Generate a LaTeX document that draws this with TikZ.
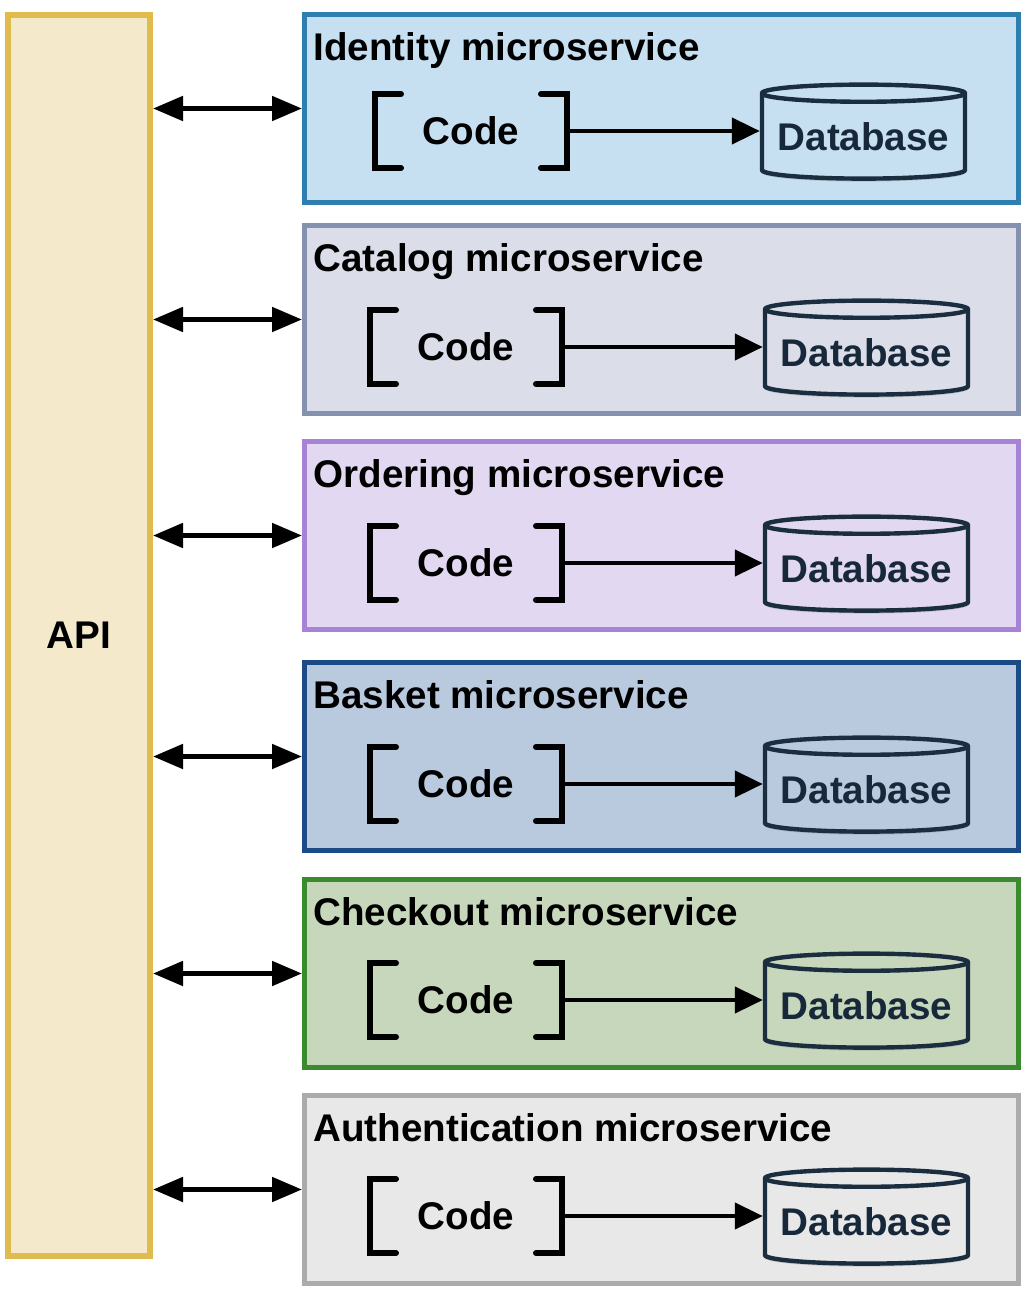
\documentclass[tikz,border=0pt]{standalone}
\usepackage{fontspec}
\setmainfont{Liberation Sans}
\usetikzlibrary{shapes.geometric,arrows.meta,shadows}
\definecolor{apifill}{HTML}{F4EACB}
\definecolor{apiline}{HTML}{E0BC4E}
\definecolor{identfill}{HTML}{C6E0F2}
\definecolor{identline}{HTML}{2E7EB0}
\definecolor{catfill}{HTML}{DBDEE8}
\definecolor{catline}{HTML}{8592AF}
\definecolor{ordfill}{HTML}{E3D8F2}
\definecolor{ordline}{HTML}{A583D5}
\definecolor{bskfill}{HTML}{B9C9DE}
\definecolor{bskline}{HTML}{1B4B86}
\definecolor{chkfill}{HTML}{C7D7BC}
\definecolor{chkline}{HTML}{3A8A2E}
\definecolor{authfill}{HTML}{E8E8E8}
\definecolor{authline}{HTML}{ABABAB}
\definecolor{dbline}{HTML}{1B2E40}
\definecolor{dbtext}{HTML}{17283A}
\begin{document}
\begin{tikzpicture}[x=0.5pt,y=-0.5pt,
    font=\fontsize{19.3}{23}\selectfont\bfseries,
    svcbox/.style={draw,line width=2.5pt,anchor=north west,inner sep=0pt,
        minimum width=357pt,minimum height=94pt},
    codebox/.style={inner sep=0pt,outer sep=0pt,minimum width=96pt,minimum height=37pt},
    bracket/.style={line width=3pt,line cap=round},
    dbase/.style={shape=cylinder,shape border rotate=90,aspect=0.1,draw=dbline,
        line width=2.2pt,minimum width=101.5pt,minimum height=47pt,inner sep=0pt,
        text=dbtext,drop shadow={shadow xshift=0pt,shadow yshift=-1.5pt,opacity=0.3}},
    flow/.style={-{Triangle[length=14pt,width=13pt]},line width=2.2pt},
    link/.style={{Triangle[length=15pt,width=12pt]}-{Triangle[length=15pt,width=12pt]},line width=2.5pt}]
    \useasboundingbox (0,0) rectangle (1030,1296);
    \node[draw=apiline,fill=apifill,line width=3pt,anchor=north west,inner sep=0pt,
        minimum width=71pt,minimum height=620.5pt] (api) at (5,12) {API};
    \foreach \i/\title/\top/\cx/\cy/\dx/\col in
        {1/Identity/12/471/131/863.5/ident,
         2/Catalog/223/466/347/866.5/cat,
         3/Ordering/439/466/563/866.5/ord,
         4/Basket/660/466/784/866.5/bsk,
         5/Checkout/877/466/1000/866.5/chk,
         6/Authentication/1093/466/1216/866.5/auth}
    {
        \node[svcbox,draw=\col line,fill=\col fill] (s\i) at (302,\top) {};
        \node[anchor=base west,inner sep=0pt] (t\i) at (313,\top+48) {\title\ microservice};
        \node[codebox] (c\i) at (\cx,\cy) {Code};
        \draw[bracket] ([xshift=13pt]c\i.north west) -- (c\i.north west) -- (c\i.south west) -- ([xshift=13pt]c\i.south west);
        \draw[bracket] ([xshift=-13pt]c\i.north east) -- (c\i.north east) -- (c\i.south east) -- ([xshift=-13pt]c\i.south east);
        \node[dbase,fill=\col fill] (d\i) at (\dx,\cy+6) {Database};
        \draw[flow] (c\i.east) -- (c\i.east -| d\i.west);
        \draw[link] (s\i.west -| api.east) -- (s\i.west);
    }
\end{tikzpicture}
\end{document}
